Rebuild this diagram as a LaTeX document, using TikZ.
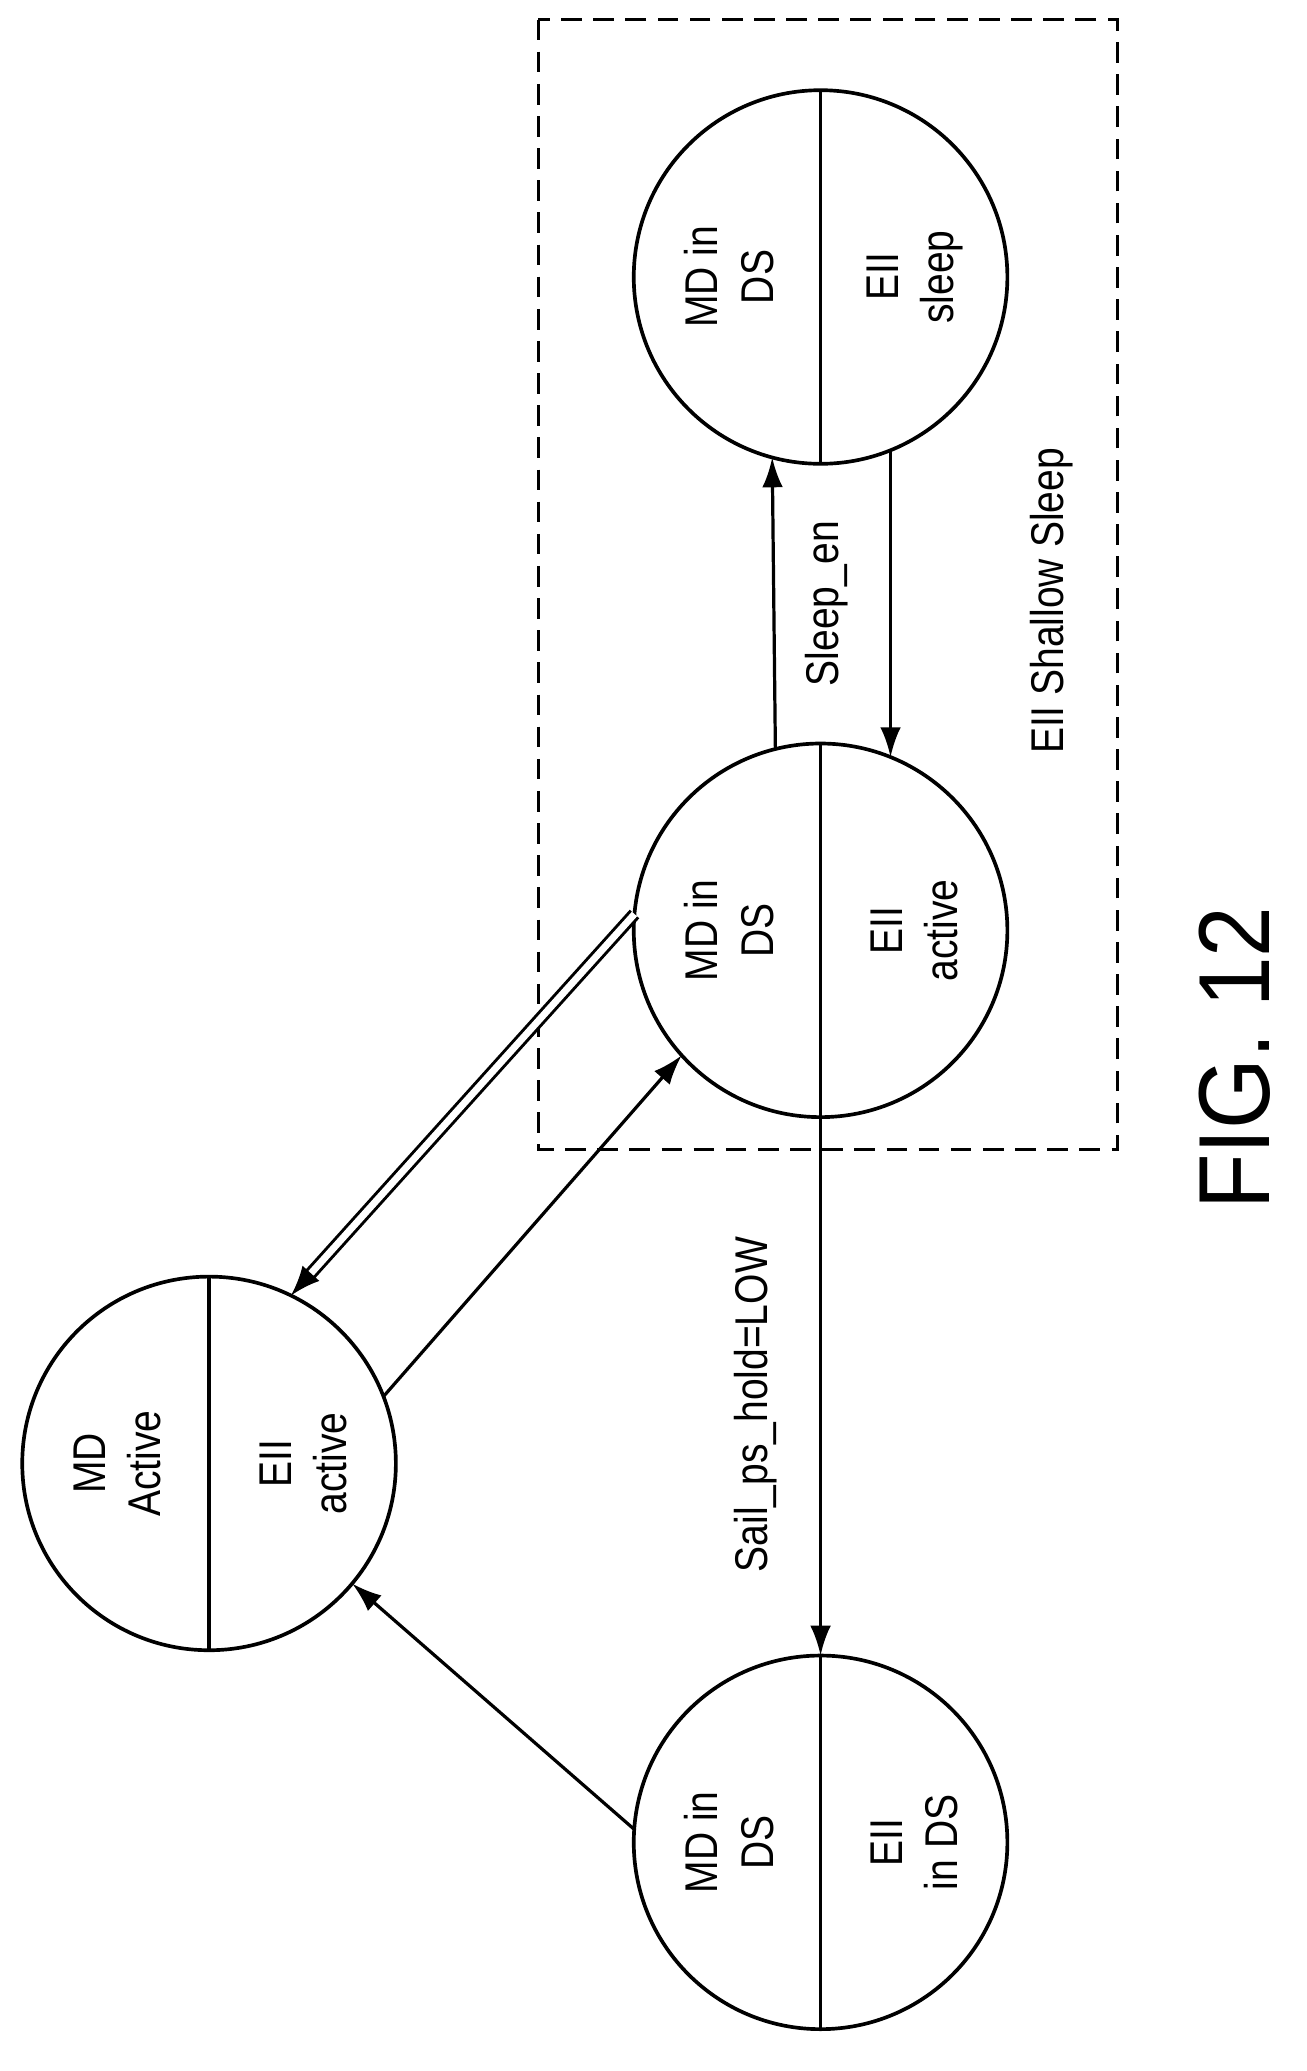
\documentclass[tikz,border=0pt]{standalone}
\usepackage{fontspec}
\setmainfont{Liberation Sans}
\usetikzlibrary{arrows.meta}
\begin{document}
\begin{tikzpicture}[x=0.02cm,y=-0.02cm,
  st/.style={circle,draw,line width=1.6pt,minimum size=5.72cm,inner sep=0,outer sep=0},
  lb/.style={rotate=90,xscale=0.85,align=center,font=\fontsize{20}{24}\selectfont,inner sep=0},
  ar/.style={line width=1.4pt,-{Latex[length=13pt,width=9pt]}}]
\useasboundingbox (0,0) rectangle (1000,1585);
\draw[dash pattern=on 9pt off 5pt,line width=1.4pt] (412,15) rectangle (855,880);
\node[st] (s1) at (628,212) {};
\node[st] (s2) at (628,712) {};
\node[st] (s3) at (160,1120) {};
\node[st] (s4) at (628,1410) {};
\foreach \n in {s1,s2,s3,s4} \draw[line width=1.4pt] (\n.north) -- (\n.south);
\node[lb] (t1a) at (558,212) {MD in\\DS};
\node[lb] (t1b) at (700,212) {EII\\sleep};
\node[lb] (t2a) at (558,712) {MD in\\DS};
\node[lb] (t2b) at (700,712) {EII\\active};
\node[lb] (t3a) at (90,1120) {MD\\Active};
\node[lb] (t3b) at (232,1120) {EII\\active};
\node[lb] (t4a) at (558,1410) {MD in\\DS};
\node[lb] (t4b) at (700,1410) {EII\\in DS};
\draw[ar] (s2.104.8) -- (s1.255);
\draw[ar] (s1.292) -- (s2.68);
\draw[ar] (s2.south) -- (s4.north);
\draw[line width=1.3pt,double,double distance=3pt,-{Latex[length=13pt,width=10pt]}] (s2.175) -- (s3.64);
\draw[ar] (s3.21) -- (s2.222);
\draw[ar] (s4.176) -- (s3.320);
\node[lb] (l1) at (633,462) {Sleep\_en};
\node[lb] (l2) at (805,460) {EII Shallow Sleep};
\node[lb] (l3) at (578,1075) {Sail\_ps\_hold=LOW};
\node[rotate=90,xscale=0.9,font=\fontsize{44}{50}\selectfont] (fig) at (945,810) {FIG. 12};
\end{tikzpicture}
\end{document}
